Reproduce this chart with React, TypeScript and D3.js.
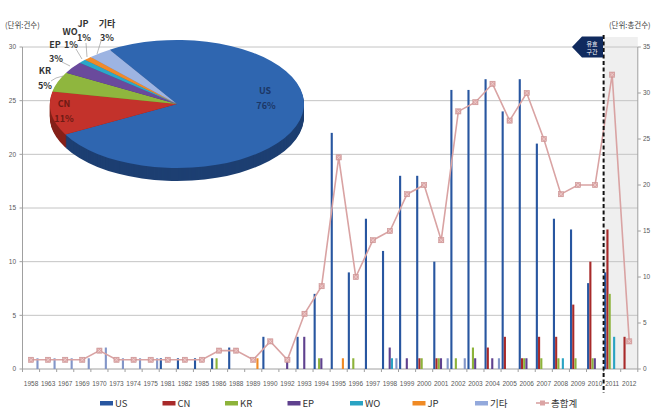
import React from 'react';
import * as d3 from 'd3';

// categories (x axis)
const years = ['1958','1963','1967','1969','1970','1973','1974','1975','1981','1982','1985','1986','1988','1989','1990','1992','1993','1994',
  '1995','1996','1997','1998','1999','2000','2001','2002','2003','2004','2005','2006','2007','2008','2009','2010','2011','2012'];

const seriesNames = ['US', 'CN', 'KR', 'EP', 'WO', 'JP', '기타'];

// counts per country, same order as years
const usCounts = [0,0,0,0,0,0,0,0,1,1,1,1,2,0,3,0,3,7,22,9,14,11,18,18,10,26,26,27,24,27,21,14,13,8,9,0];
const cnCounts = [0,0,0,0,0,0,0,0,0,0,0,0,0,0,0,0,0,0,0,0,0,0,0,1,1,0,0,2,3,1,3,3,6,10,13,3];
const krCounts = [0,0,0,0,0,0,0,0,0,0,0,1,0,0,0,0,0,1,0,1,0,0,0,1,1,1,2,0,0,1,1,1,1,1,7,0];
const epCounts = [0,0,0,0,0,0,0,0,0,0,0,0,0,0,0,1,3,1,0,0,0,2,1,0,1,0,1,1,0,1,0,0,0,1,0,0];
const woCounts = [0,0,0,0,0,0,0,0,0,0,0,0,0,0,0,0,0,0,0,0,0,1,0,0,0,0,0,0,0,0,0,1,0,0,3,0];
const jpCounts = [0,0,0,0,0,0,0,0,0,0,0,0,0,1,0,0,0,0,1,0,0,0,0,0,0,0,0,0,0,0,0,0,0,0,0,0];
const etcCounts = [1,1,1,1,2,1,1,1,0,0,0,0,0,0,0,0,0,0,0,0,0,1,0,0,1,1,0,1,0,0,0,0,0,0,0,0];

// total (secondary axis line)
const totalCounts = [1,1,1,1,2,1,1,1,1,1,1,2,2,1,3,1,6,9,23,10,14,15,19,20,14,28,29,31,27,30,25,19,20,20,32,3];

// pie shares (%)
const pieShares = [76, 11, 5, 3, 1, 1, 3];

const leftTicks = [0, 5, 10, 15, 20, 25, 30];
const rightTicks = [0, 5, 10, 15, 20, 25, 30, 35];

const seriesCounts = [usCounts, cnCounts, krCounts, epCounts, woCounts, jpCounts, etcCounts];
const barColors = ['#2856a0', '#a82a2a', '#8db33a', '#5f418e', '#2aa3c3', '#f08a24', '#8396c8'];
const legendColors = ['#2856a0', '#a82a2a', '#8db33a', '#5f418e', '#2aa3c3', '#f08a24', '#93a9dc'];
const pieTop = ['#2f66b0', '#c3322b', '#8fb63e', '#6a4a9c', '#2ca7c9', '#f08a2a', '#9db4e2'];
const pieSide = ['#1d3f72', '#852019', '#5f7e25', '#45306a', '#1a7189', '#a65d1b', '#6a7fa8'];
const lineColor = '#d9a3a3';

const KO = '"Noto Sans CJK KR", "Liberation Sans", sans-serif';
const NARROW = '"Liberation Sans Narrow", "Liberation Sans", sans-serif';

export default function App() {
  const x = d3.scaleBand<string>().domain(years).range([22.5, 637.8]);
  const inner = d3.scaleBand<string>().domain(seriesNames).range([-8, 7.6]);
  const yL = d3.scaleLinear().domain([0, 30]).range([369, 47]);
  const yR = d3.scaleLinear().domain([0, 35]).range([369, 47]);
  const bw = x.bandwidth();
  const cx = (y: string) => (x(y) as number) + bw / 2;

  const line = d3.line<number>()
    .x((_, i) => cx(years[i]))
    .y(d => yR(d));

  // pie
  const start = -32 * Math.PI / 180;
  const arcs = d3.pie<number>().sort(null).startAngle(start).endAngle(start + 2 * Math.PI)(pieShares);
  const R = 127, pcx = 177, pcy = 104, ry = 64, depth = 13;
  const arc = d3.arc<d3.PieArcDatum<number>>().innerRadius(0).outerRadius(R);
  const sy = ry / R;

  const shadeX = x('2011') as number;
  const plotRight = 637.8;

  const legendItems = seriesNames.map((n, i) => ({ name: n, color: legendColors[i], x: 100 + i * 62.5 }));

  return (
    <svg width={660} height={417} style={{ position: 'absolute', left: 0, top: 0, background: '#fff' }}>
      {/* shaded projection area */}
      <rect x={shadeX} y={37} width={plotRight - shadeX} height={369 - 37} fill="#efefef" />

      {/* gridlines */}
      {leftTicks.slice(1).map(t => (
        <line key={t} x1={22.5} x2={plotRight} y1={yL(t)} y2={yL(t)} stroke="#c4c4c4" strokeWidth={1} />
      ))}

      {/* axes */}
      <line x1={22.5} x2={22.5} y1={47} y2={369} stroke="#a0a0a0" />
      <line x1={plotRight} x2={plotRight} y1={47} y2={369} stroke="#a0a0a0" />
      <line x1={22.5} x2={plotRight} y1={369} y2={369} stroke="#a0a0a0" />
      {leftTicks.map(t => (
        <g key={t}>
          <line x1={19.5} x2={22.5} y1={yL(t)} y2={yL(t)} stroke="#a0a0a0" />
          <text x={16} y={yL(t) + 2.3} fontSize={6.5} textAnchor="end" fill="#595959" fontFamily={NARROW}>{t}</text>
        </g>
      ))}
      {rightTicks.map(t => (
        <g key={t}>
          <line x1={plotRight} x2={plotRight + 3} y1={yR(t)} y2={yR(t)} stroke="#a0a0a0" />
          <text x={643} y={yR(t) + 2.3} fontSize={6.5} fill="#595959" fontFamily={NARROW}>{t}</text>
        </g>
      ))}
      {years.map(yy => (
        <g key={yy}>
          <line x1={(x(yy) as number) + bw} x2={(x(yy) as number) + bw} y1={369} y2={372} stroke="#a0a0a0" />
          <text x={cx(yy)} y={386} fontSize={6.5} textAnchor="middle" fill="#595959" fontFamily={NARROW}>{yy}</text>
        </g>
      ))}
      <line x1={x(years[0]) as number} x2={x(years[0]) as number} y1={369} y2={372} stroke="#a0a0a0" />

      <text x={5} y={28} fontSize={7.5} fill="#404040" fontFamily={KO}>(단위:건수)</text>
      <text x={609} y={28} fontSize={7.5} fill="#404040" fontFamily={KO}>(단위:총건수)</text>

      {/* bars */}
      {seriesCounts.map((vals, si) => (
        <g key={si}>
          {vals.map((v, i) => v > 0 ? (
            <rect key={i}
              x={cx(years[i]) + (inner(seriesNames[si]) as number)}
              y={yL(v)}
              width={inner.bandwidth() * 0.95}
              height={369 - yL(v)}
              fill={barColors[si]} />
          ) : null)}
        </g>
      ))}

      {/* total line */}
      <path d={line(totalCounts) || ''} fill="none" stroke={lineColor} strokeWidth={1.6} />
      {totalCounts.map((v, i) => (
        <g key={i} transform={`translate(${cx(years[i])},${yR(v)})`}>
          <rect x={-2.6} y={-2.6} width={5.2} height={5.2} fill="#dba4a4" stroke="#c88e8e" strokeWidth={0.5} />
          <path d="M-1.8,-1.8L1.8,1.8M-1.8,1.8L1.8,-1.8" stroke="#f3dede" strokeWidth={0.6} />
        </g>
      ))}

      {/* projection boundary */}
      <line x1={shadeX} x2={shadeX} y1={35} y2={393} stroke="#111" strokeWidth={2} strokeDasharray="4,2.5" />
      <path d="M572,47 L582,36.5 L603,36.5 L603,57.5 L582,57.5 Z" fill="#102a5e" />
      <text x={592} y={45.5} fontSize={6} fill="#fff" textAnchor="middle" fontFamily={KO}>유효</text>
      <text x={592} y={54} fontSize={6} fill="#fff" textAnchor="middle" fontFamily={KO}>구간</text>

      {/* 3D pie: side layers then top face */}
      {d3.range(depth, 0, -1).map(k => (
        <g key={k} transform={`translate(${pcx},${pcy + k}) scale(1,${sy})`}>
          {arcs.map((a, i) => <path key={i} d={arc(a) || ''} fill={pieSide[i]} />)}
        </g>
      ))}
      <g transform={`translate(${pcx},${pcy}) scale(1,${sy})`}>
        {arcs.map((a, i) => <path key={i} d={arc(a) || ''} fill={pieTop[i]} />)}
      </g>

      {/* pie labels */}
      <g fontFamily={KO} fontWeight="bold" fontSize={9} textAnchor="middle">
        <text x={265} y={94} fill="#1c3766">US</text>
        <text x={266} y={109} fill="#1c3766">76%</text>
        <text x={64} y={107} fill="#6e1a14">CN</text>
        <text x={64} y={122} fill="#6e1a14">11%</text>
        <text x={45} y={74} fill="#333">KR</text>
        <text x={45} y={89} fill="#333">5%</text>
        <text x={56} y={62} fill="#333">3%</text>
        <text x={55} y={48} fill="#333">EP</text>
        <text x={71} y={48} fill="#333">1%</text>
        <text x={70} y={35} fill="#333">WO</text>
        <text x={83} y={27} fill="#333">JP</text>
        <text x={84} y={41} fill="#333">1%</text>
        <text x={107} y={27} fill="#333">기타</text>
        <text x={107} y={41} fill="#333">3%</text>
      </g>
      <g stroke="#8c8c8c" strokeWidth={0.6} fill="none">
        <path d="M51,81 L56,78 L63,76" />
        <path d="M62,62 L70,66" />
        <path d="M76,49 L82,59" />
        <path d="M86,43 L87,57" />
        <path d="M101,41 L97,54" />
      </g>

      {/* legend */}
      {legendItems.map(it => (
        <g key={it.name}>
          <rect x={it.x} y={401} width={13} height={4.5} fill={it.color} />
          <text x={it.x + 15} y={407} fontSize={9.5} fill="#333" fontFamily={KO}>{it.name}</text>
        </g>
      ))}
      <g>
        <line x1={536} x2={549} y1={403} y2={403} stroke={lineColor} strokeWidth={1.6} />
        <rect x={540} y={400.5} width={5} height={5} fill="#dba4a4" />
        <text x={551} y={407} fontSize={9.5} fill="#333" fontFamily={KO}>총합계</text>
      </g>
    </svg>
  );
}
